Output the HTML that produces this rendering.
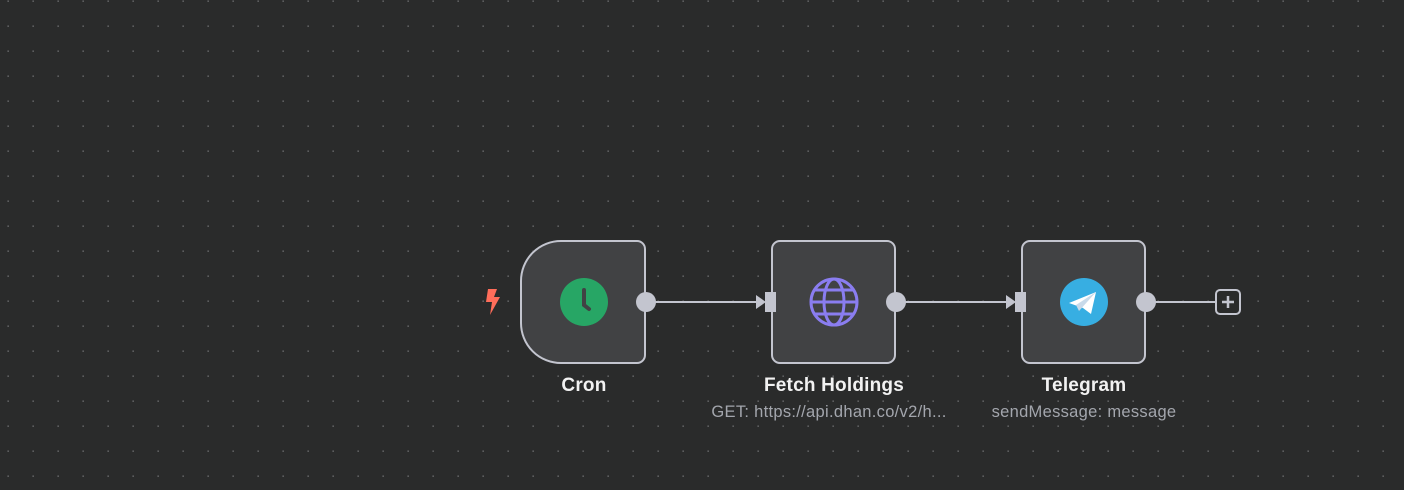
<!DOCTYPE html>
<html><head><meta charset="utf-8"><style>
html,body{margin:0;padding:0;width:1404px;height:490px;overflow:hidden;background:#2a2b2b;font-family:"Liberation Sans",sans-serif;}
.t{position:absolute;text-align:center;color:#f2f2f2;font-size:19px;font-weight:bold;width:300px;letter-spacing:0.2px;}
.s{position:absolute;text-align:center;color:#a3a6ad;font-size:16.5px;width:320px;letter-spacing:0.3px;}
</style></head><body>
<svg width="1404" height="490" style="position:absolute;left:0;top:0">
<defs><pattern id="d" x="7" y="0" width="25" height="25" patternUnits="userSpaceOnUse"><rect x="0.5" y="0.5" width="1.3" height="1.3" fill="#77787a"/></pattern></defs>
<rect width="1404" height="490" fill="url(#d)"/>
<g stroke="#c3c5cf" stroke-width="2" fill="#414244">
<path d="M561 241 H637 a8 8 0 0 1 8 8 V355 a8 8 0 0 1 -8 8 H561 a40 40 0 0 1 -40 -40 V281 a40 40 0 0 1 40 -40Z"/>
<rect x="772" y="241" width="123" height="122" rx="8"/>
<rect x="1022" y="241" width="123" height="122" rx="8"/>
</g>
<g stroke="#c3c5cf" stroke-width="2">
<line x1="646" y1="302" x2="760" y2="302"/>
<line x1="896" y1="302" x2="1010" y2="302"/>
<line x1="1146" y1="302" x2="1216" y2="302"/>
</g>
<g fill="#c3c5cf">
<circle cx="646" cy="302" r="10"/><circle cx="896" cy="302" r="10"/><circle cx="1146" cy="302" r="10"/>
<polygon points="756,295 766,302 756,309"/><rect x="765" y="292" width="11" height="20"/>
<polygon points="1006,295 1016,302 1006,309"/><rect x="1015" y="292" width="11" height="20"/>
</g>
<rect x="1216" y="290" width="24" height="24" rx="4" fill="#2a2b2b" stroke="#c3c5cf" stroke-width="2"/>
<path d="M1228 296 V308 M1222 302 H1234" stroke="#c3c5cf" stroke-width="2.5"/>
<polygon points="488,289 497,289 494,297 500,297 490,315 492,302 486,302" fill="#ff6d5a"/>
<circle cx="584" cy="302" r="24" fill="#27a665"/>
<path d="M584 290 V305 L589 309" stroke="#414244" stroke-width="4" fill="none" stroke-linecap="round"/>
<g stroke="#8a7df0" stroke-width="3" fill="none">
<circle cx="834" cy="302" r="23"/><ellipse cx="834" cy="302" rx="10" ry="23"/>
<line x1="811" y1="302" x2="857" y2="302"/><path d="M815 290 H853 M815 314 H853"/>
</g>
<circle cx="1084" cy="302" r="24" fill="#37aee2"/>
<polygon points="1069,303 1096,292 1091,314 1083,308" fill="#fff"/>
<polygon points="1076,305 1096,292 1079,311" fill="#c8daea"/>
</svg>
<div class="t" style="left:434px;top:375px">Cron</div>
<div class="t" style="left:684px;top:375px">Fetch Holdings</div>
<div class="s" style="left:669px;top:403px">GET: https://api.dhan.co/v2/h...</div>
<div class="t" style="left:934px;top:375px">Telegram</div>
<div class="s" style="left:924px;top:403px">sendMessage: message</div>
</body></html>
